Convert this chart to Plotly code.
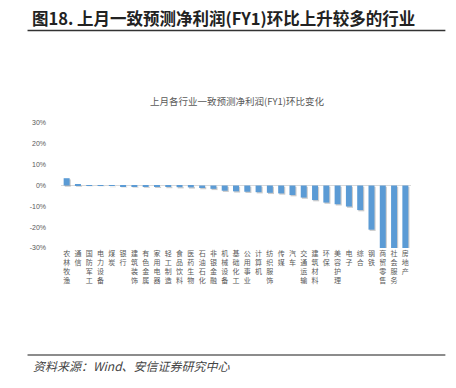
import plotly.graph_objects as go

categories = ["农林牧渔", "通信", "国防军工", "电力设备", "煤炭", "银行", "建筑装饰", "有色金属",
              "家用电器", "轻工制造", "食品饮料", "医药生物", "石油石化", "非银金融", "机械设备",
              "基础化工", "公用事业", "计算机", "纺织服饰", "传媒", "汽车", "交通运输", "建筑材料",
              "环保", "美容护理", "电子", "综合", "钢铁", "商贸零售", "社会服务", "房地产"]
values = [3.5, 0.5, -0.1, -0.1, -0.2, -0.3, -0.4, -0.5,
          -0.6, -0.7, -0.8, -0.9, -1.2, -1.6, -2.5,
          -2.8, -3.0, -3.2, -3.5, -3.8, -4.6, -5.8, -7.0,
          -8.2, -9.0, -10.1, -11.8, -21.2, -30.0, -30.0, -30.0]
y_ticks = [-30, -20, -10, 0, 10, 20, 30]
y_tick_text = ["-30%", "-20%", "-10%", "0%", "10%", "20%", "30%"]

main_title = "图18. 上月一致预测净利润(FY1)环比上升较多的行业"
chart_title = "上月各行业一致预测净利润(FY1)环比变化"
source_text = "资料来源：Wind、安信证券研究中心"

# vertical (stacked) tick labels
tick_labels = ["<br>".join(list(c)) for c in categories]

W, H = 456, 388
L, R, T, B = 61.4, 410.7, 123.0, 248.0
pw, ph = R - L, B - T

def px_x(px):
    return (px - L) / pw

def px_y(py):
    return (B - py) / ph

CJK = "Noto Sans CJK SC, Noto Sans, sans-serif"
GRAY = "#595959"

fig = go.Figure()
fig.add_trace(go.Bar(
    x=categories, y=values, base=-0.6,
    width=0.53, offset=-0.265 + 0.1,
    marker=dict(color="rgba(110,110,110,0.35)", line=dict(width=0)),
    hoverinfo="skip", showlegend=False,
))
fig.add_trace(go.Bar(
    x=categories, y=values,
    width=0.53, offset=-0.265,
    marker=dict(color="#5B9BD5", line=dict(width=0)),
    showlegend=False,
))

fig.update_layout(
    width=W, height=H,
    margin=dict(l=L, r=W - R, t=T, b=H - B, pad=0),
    paper_bgcolor="white", plot_bgcolor="white",
    barmode="overlay",
    font=dict(family=CJK, color=GRAY),
    xaxis=dict(
        tickmode="array", tickvals=categories, ticktext=tick_labels,
        tickfont=dict(size=7, color=GRAY, family=CJK),
        showgrid=False, showline=False, ticks="", zeroline=False,
        tickangle=0,
    ),
    yaxis=dict(
        range=[-30, 30], tickmode="array", tickvals=y_ticks, ticktext=y_tick_text,
        tickfont=dict(size=7, color=GRAY, family="Liberation Sans, Arial, sans-serif"),
        showgrid=False, showline=False, ticks="",
        zeroline=True, zerolinecolor="#d9d9d9", zerolinewidth=1,
        ticklabelstandoff=14,
    ),
    shapes=[
        dict(type="line", xref="paper", yref="paper",
             x0=px_x(28), x1=px_x(445), y0=px_y(30.5), y1=px_y(30.5),
             line=dict(color="#333333", width=1.5)),
        dict(type="line", xref="paper", yref="paper",
             x0=px_x(28), x1=px_x(445), y0=px_y(355), y1=px_y(355),
             line=dict(color="#666666", width=1.5)),
    ],
    annotations=[
        dict(text=main_title, xref="paper", yref="paper",
             x=px_x(30), y=px_y(18), xanchor="left", yanchor="middle",
             showarrow=False, font=dict(size=16.5, color="#222222", family=CJK, weight=600)),
        dict(text=chart_title, xref="paper", yref="paper",
             x=px_x(237), y=px_y(101), xanchor="center", yanchor="middle",
             showarrow=False, font=dict(size=9.5, color=GRAY, family=CJK)),
        dict(text="<i>" + source_text + "</i>", xref="paper", yref="paper",
             x=px_x(31), y=px_y(365), xanchor="left", yanchor="middle",
             showarrow=False, font=dict(size=12, color="#444444", family=CJK)),
    ],
)

fig.write_html("out.html", config={"displayModeBar": False},
               post_script="document.body.style.margin='0';")
